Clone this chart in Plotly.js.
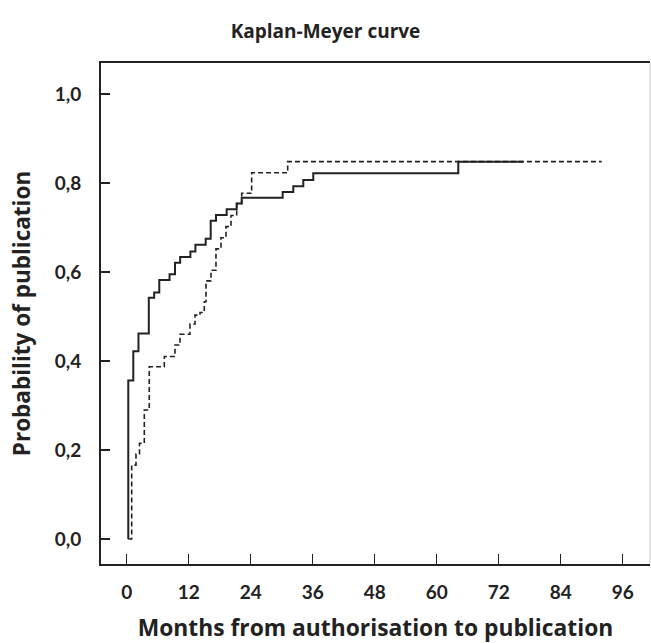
<!DOCTYPE html>
<html>
<head>
<meta charset="utf-8">
<script src="https://cdn.plot.ly/plotly-3.0.1.min.js"></script>
<style>html,body{margin:0;padding:0;background:#fff;}#chart{width:651px;height:643px;}</style>
</head>
<body>
<div id="chart"></div>
<script>
// Solid curve: months and cumulative probability of publication
const solidMonths = [0.31, 0.31, 1.28, 2.28, 4.28, 5.32, 6.31, 8.30, 9.35, 10.35, 12.33, 13.3, 15.29, 16.26, 17.28, 19.35, 21.29, 22.26, 30.19, 32.24, 34.18, 36.11, 64.18, 76.76];
const solidProb   = [0.0, 0.356, 0.422, 0.462, 0.542, 0.554, 0.582, 0.595, 0.621, 0.634, 0.646, 0.661, 0.675, 0.715, 0.728, 0.741, 0.754, 0.767, 0.780, 0.793, 0.807, 0.822, 0.848, 0.848];

// Dashed curve
const dashedMonths = [0.31, 0.97, 1.80, 2.48, 3.41, 4.37, 7.28, 9.35, 10.32, 12.25, 13.22, 14.19, 15.02, 15.35, 16.32, 17.28, 18.25, 19.22, 20.19, 21.29, 22.26, 24.19, 31.16, 91.93];
const dashedProb   = [0.0, 0.166, 0.191, 0.215, 0.290, 0.387, 0.410, 0.436, 0.460, 0.483, 0.503, 0.509, 0.533, 0.580, 0.604, 0.652, 0.677, 0.702, 0.727, 0.754, 0.777, 0.823, 0.848, 0.848];

const xTicks = [0, 12, 24, 36, 48, 60, 72, 84, 96];
const yTicks = [0, 0.2, 0.4, 0.6, 0.8, 1.0];
const yTickLabels = ["0,0", "0,2", "0,4", "0,6", "0,8", "1,0"];

const FONT = "Lato, 'Open Sans', sans-serif";
const TFONT = "'Open Sans', Lato, sans-serif";

const traces = [
  {x: solidMonths, y: solidProb, type: 'scatter', mode: 'lines',
   line: {shape: 'hv', color: '#222', width: 2}, hoverinfo: 'skip'},
  {x: dashedMonths, y: dashedProb, type: 'scatter', mode: 'lines',
   line: {shape: 'hv', color: '#222', width: 1.6, dash: '5px,3px'}, hoverinfo: 'skip'}
];

const layout = {
  width: 651, height: 643,
  margin: {l: 101, r: 1, t: 63, b: 79},
  paper_bgcolor: '#fff', plot_bgcolor: '#fff',
  showlegend: false,
  font: {family: FONT, color: '#222'},
  title: {text: '<b>Kaplan-Meyer curve</b>', x: 0.5, xanchor: 'center', y: 0.952, yanchor: 'middle',
          font: {family: TFONT, size: 19, color: '#222'}},
  xaxis: {
    range: [-4.97, 101.28], tickvals: xTicks, ticktext: xTicks.map(String),
    showgrid: false, zeroline: false,
    showline: true, linecolor: '#222', linewidth: 2, mirror: true,
    ticks: 'inside', ticklen: 10, tickwidth: 1.5, tickcolor: '#222',
    ticklabelstandoff: 10,
    tickfont: {family: FONT, size: 19, color: '#222', weight: 'bold'},
    title: {text: '<b>Months from authorisation to publication</b>', standoff: 28,
            font: {family: TFONT, size: 22.8, color: '#222'}}
  },
  yaxis: {
    range: [-0.0562, 1.0697], tickvals: yTicks, ticktext: yTickLabels,
    showgrid: false, zeroline: false,
    showline: true, linecolor: '#222', linewidth: 2,
    ticks: 'inside', ticklen: 9, tickwidth: 1.5, tickcolor: '#222',
    ticklabelstandoff: 14,
    tickfont: {family: FONT, size: 19, color: '#222', weight: 'bold'},
    title: {text: '<b>Probability of publication</b>', standoff: 18,
            font: {family: TFONT, size: 22.5, color: '#222'}}
  },
  shapes: [
    {type: 'line', xref: 'paper', yref: 'paper', x0: 1, x1: 1, y0: 0, y1: 1,
     line: {color: '#ccc', width: 1}}
  ]
};

Plotly.newPlot('chart', traces, layout, {staticPlot: true, displayModeBar: false});
</script>
</body>
</html>
